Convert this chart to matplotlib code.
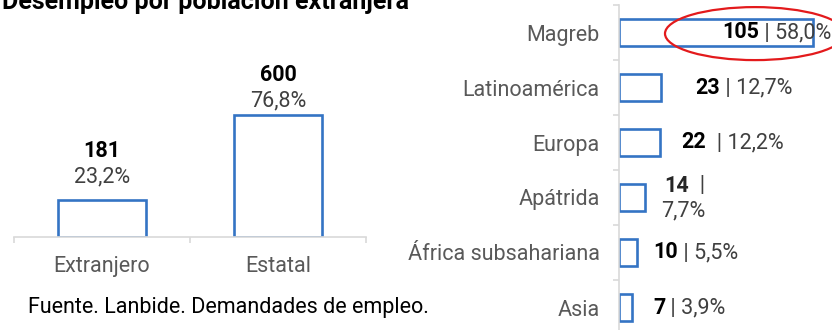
import matplotlib.pyplot as plt
from matplotlib.patches import Ellipse

plt.rcParams["font.family"] = ["Roboto", "DejaVu Sans"]

# Paro registrado: extranjeros frente a estatales
totales_cat = ["Extranjero", "Estatal"]
totales_val = [181, 600]
totales_pct = ["23,2%", "76,8%"]

# Paro de población extranjera por origen
origen_cat = ["Magreb", "Latinoamérica", "Europa", "Apátrida", "África subsahariana", "Asia"]
origen_val = [105, 23, 22, 14, 10, 7]
origen_pct = ["58,0%", "12,7%", "12,2%", "7,7%", "5,5%", "3,9%"]
origen_sep = [" | ", " | ", "  | ", "  |", " | ", " | "]

# separación (px) entre el final de la barra y la etiqueta
gap_px = [-91, 34, 22, 19, 16, 21]
# altura (px) de las etiquetas sobre las barras de la izquierda
num_px = [49, 40]
pct_px = [23, 14]

W, H = 832, 330
AZUL = "#3474c4"
GRIS_EJE = "#d9d9d9"
GRIS_TXT = "#595959"
PT = 0.72  # px -> puntos a 100 dpi
FS = 15.5

fig = plt.figure(figsize=(W / 100, H / 100), dpi=100)


def px_axes(left, top, right, bottom):
    return fig.add_axes([left / W, 1 - bottom / H, (right - left) / W, (bottom - top) / H])


# --- columnas: extranjero vs estatal ---
ax1 = px_axes(14, 20, 366, 237)
x = range(len(totales_cat))
ax1.bar(x, totales_val, width=0.5, facecolor="white", edgecolor=AZUL, linewidth=1.9)
ax1.set_xlim(-0.5, 1.5)
ax1.set_ylim(0, 600 * 217 / 122)
for s in ["top", "right", "left"]:
    ax1.spines[s].set_visible(False)
ax1.spines["bottom"].set_color(GRIS_EJE)
ax1.spines["bottom"].set_linewidth(1.2)
ax1.set_yticks([])
ax1.set_xticks(list(x), totales_cat)
ax1.set_xticks([-0.5, 0.5, 1.5], minor=True)
ax1.tick_params(axis="x", which="major", length=0, pad=14, labelsize=FS, labelcolor=GRIS_TXT)
ax1.tick_params(axis="x", which="minor", length=4.5, width=1.2, color=GRIS_EJE)

for i, v in enumerate(totales_val):
    ax1.annotate(f"{v}", xy=(i, v), xytext=(0, num_px[i] * PT), textcoords="offset points",
                 ha="center", va="center", fontsize=FS, fontweight="bold", color="black")
    ax1.annotate(totales_pct[i], xy=(i, v), xytext=(0, pct_px[i] * PT), textcoords="offset points",
                 ha="center", va="center", fontsize=FS, color="#404040")

# --- barras horizontales por origen ---
ax2 = px_axes(619, 5, 832, 335)
y = range(len(origen_cat))
ax2.barh(y, origen_val, height=0.5, facecolor="white", edgecolor=AZUL, linewidth=1.9)
ax2.set_xlim(0, 213 * 105 / 194)
ax2.set_ylim(len(origen_cat) - 0.5, -0.5)
for s in ["top", "right", "bottom"]:
    ax2.spines[s].set_visible(False)
ax2.spines["left"].set_color(GRIS_EJE)
ax2.spines["left"].set_linewidth(1.2)
ax2.set_xticks([])
ax2.set_yticks(list(y), origen_cat)
ax2.set_yticks([i - 0.5 for i in range(len(origen_cat) + 1)], minor=True)
ax2.tick_params(axis="y", which="major", length=0, pad=14, labelsize=FS, labelcolor=GRIS_TXT)
ax2.tick_params(axis="y", which="minor", length=4.5, width=1.2, color=GRIS_EJE)

for i, v in enumerate(origen_val):
    if origen_sep[i].endswith("|"):
        # etiqueta partida en dos líneas
        t1 = ax2.annotate(f"{v}", xy=(v, i), xytext=(gap_px[i] * PT, 12 * PT),
                          textcoords="offset points", ha="left", va="center",
                          fontsize=FS, fontweight="bold", color="#262626")
        ax2.annotate(origen_sep[i], xy=(1, 0), xycoords=t1, ha="left", va="bottom",
                     fontsize=FS, color="#404040")
        ax2.annotate(origen_pct[i], xy=(v, i), xytext=((gap_px[i] - 3) * PT, -13 * PT),
                     textcoords="offset points", ha="left", va="center",
                     fontsize=FS, color="#404040")
    else:
        t1 = ax2.annotate(f"{v}", xy=(v, i), xytext=(gap_px[i] * PT, 0),
                          textcoords="offset points", ha="left", va="center",
                          fontsize=FS, fontweight="bold", color="black")
        ax2.annotate(origen_sep[i] + origen_pct[i], xy=(1, 0), xycoords=t1,
                     ha="left", va="bottom", fontsize=FS, color="#404040")

# resalte del Magreb
ax2.add_patch(Ellipse(((755 - 619) * 105 / 194, 0.02), 180 * 105 / 194, 53 / 55,
                      facecolor="none", edgecolor="#e31a1c", linewidth=1.6, clip_on=False))

fig.text(2 / W, 1 - 9 / H, "Desempleo por población extranjera", fontsize=18,
         fontweight="bold", color="black", va="baseline", ha="left")
fig.text(28 / W, 1 - 307 / H, "Fuente. Lanbide. Demandades de empleo.", fontsize=FS,
         color="black", va="center", ha="left")

fig.savefig("out.png", dpi=100)
